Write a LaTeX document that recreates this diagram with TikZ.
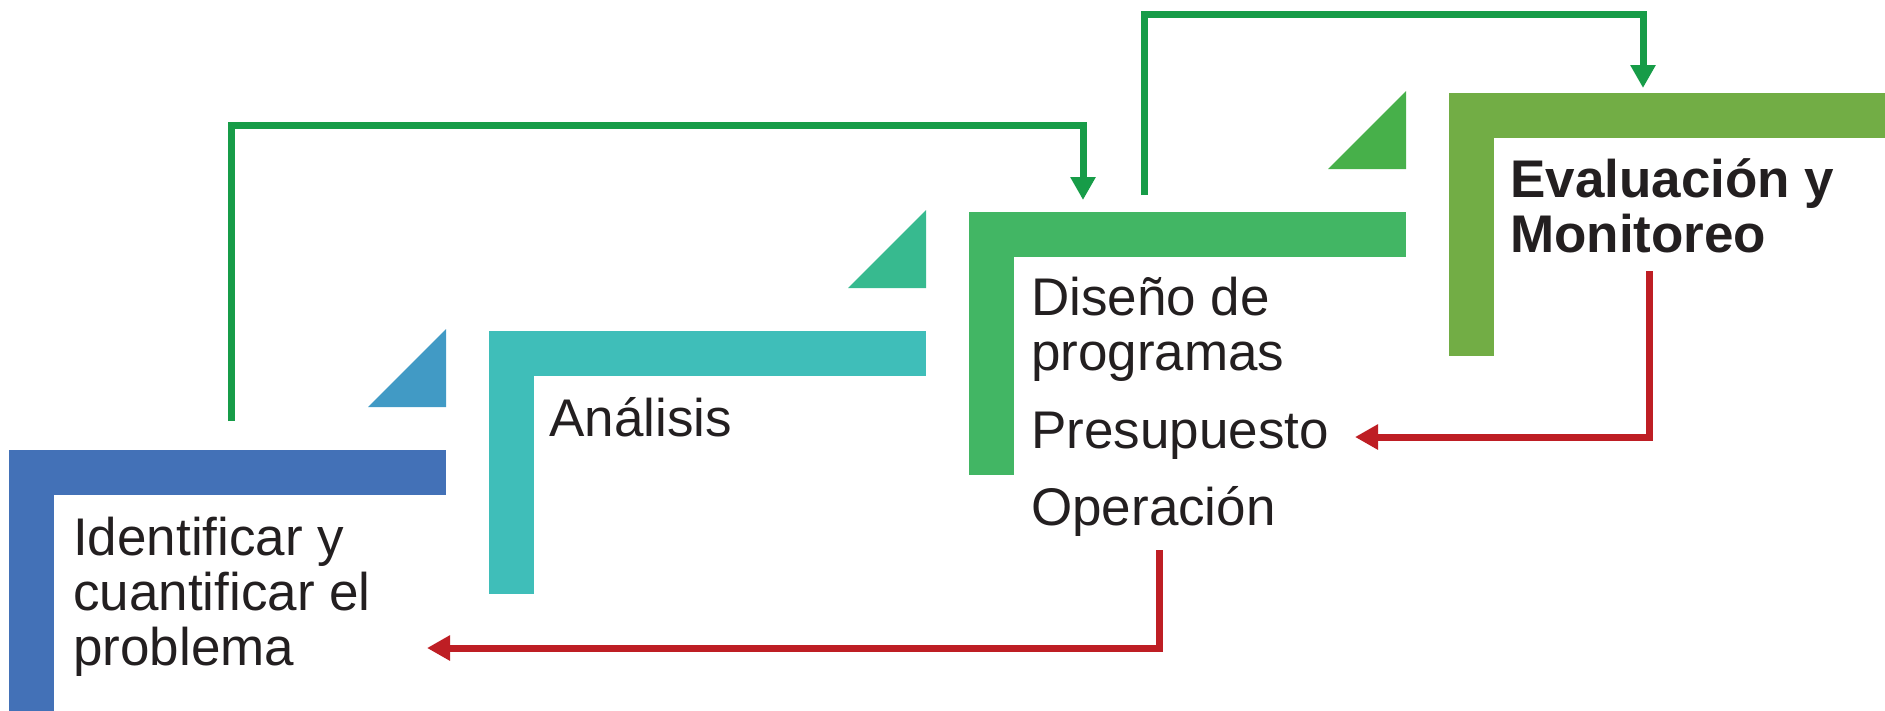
\documentclass[tikz,border=0pt]{standalone}
\usepackage{fontspec}
\setmainfont{Liberation Sans}
\usetikzlibrary{arrows.meta}
\definecolor{barA}{HTML}{4371B7}
\definecolor{barB}{HTML}{3FBEB9}
\definecolor{barC}{HTML}{42B664}
\definecolor{barD}{HTML}{72AD45}
\definecolor{triA}{HTML}{419AC5}
\definecolor{triB}{HTML}{37BA8F}
\definecolor{triC}{HTML}{47B04A}
\definecolor{goGreen}{HTML}{179C48}
\definecolor{backRed}{HTML}{BE1E24}
\definecolor{ink}{HTML}{231F20}

\begin{document}
\begin{tikzpicture}[x=1pt,y=-1pt,
    flow/.style={line width=7pt,-{Triangle[length=23pt,width=24pt]}},
    steptext/.style={anchor=base west,inner sep=0pt,align=left,text=ink,
      font=\fontsize{53}{55}\selectfont}]
      \useasboundingbox (0,0) rectangle (1885,710);
      % the four L shaped bars
      \foreach \i/\barcol in {0/barA,1/barB,2/barC,3/barD}
        {\fill[\barcol] (9+480*\i,450-119*\i) rectangle (446+480*\i,495-119*\i);
         \fill[\barcol] (9+480*\i,450-119*\i) rectangle (54+480*\i,713-119*\i);}
      % small triangles
      \foreach \i/\tricol in {0/triA,1/triB,2/triC}
        \fill[\tricol] (368+480*\i,407-119*\i) -- (446+480*\i,329-119*\i) -- (446+480*\i,407-119*\i) -- cycle;
% multi line nodes sit on their last baseline
\node [steptext] (ident) at (73,665) {Identificar y\\cuantificar el\\problema};
\node [steptext] (anal) at (549,436) {Análisis};
\node [steptext] (disen) at (1031,370) {Diseño de\\programas};
\node [steptext] (presu) at (1031,448) {Presupuesto};
\node [steptext] (opera) at (1031,525) {Operación};
\node [steptext,font=\fontsize{53}{55}\selectfont\bfseries] (evalu) at (1510,252) {Evaluación y\\Monitoreo};
      % connector ends
      \coordinate (identUp) at (231,421);
      \coordinate (identTop) at (231,125);
      \coordinate (disenIn) at (1083,200);
      \coordinate (disenUp) at (1144,195);
      \coordinate (disenTop) at (1144,14);
      \coordinate (evaluIn) at (1643,88);
      \coordinate (evaluDown) at (1649,271);
      \coordinate (evaluLow) at (1649,437);
      \coordinate (presuIn) at (1355,437);
      \coordinate (operaDown) at (1159,550);
      \coordinate (operaLow) at (1159,648);
      \coordinate (identIn) at (427,648);
      \draw[flow,goGreen] (identUp) -- (identTop) -| (disenIn);
      \draw[flow,goGreen] (disenUp) -- (disenTop) -| (evaluIn);
      \draw[flow,backRed] (evaluDown) -- (evaluLow) -- (presuIn);
      \draw[flow,backRed] (operaDown) -- (operaLow) -- (identIn);
    \end{tikzpicture}
\end{document}
